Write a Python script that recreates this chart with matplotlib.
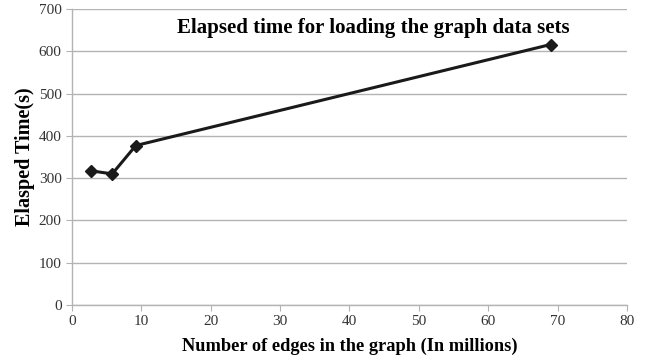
import matplotlib
matplotlib.use("Agg")
import matplotlib.pyplot as plt

edges = [2.8, 5.8, 9.2, 69.0]
elapsed = [317, 310, 377, 616]

x_ticks = [0, 10, 20, 30, 40, 50, 60, 70, 80]
y_ticks = [0, 100, 200, 300, 400, 500, 600, 700]


def main():
    plt.rcParams["font.family"] = ["Liberation Serif", "DejaVu Serif"]

    fig = plt.figure(figsize=(6.45, 3.6), dpi=100)
    ax = fig.add_axes([0.1116, 0.153, 0.8604, 0.822])

    ax.plot(edges, elapsed, "-", color="#1a1a1a", lw=2.2, marker="D", ms=6,
            markerfacecolor="#1a1a1a", markeredgecolor="#1a1a1a")

    ax.set_xlim(0, 80)
    ax.set_ylim(0, 700)
    ax.set_xticks(x_ticks)
    ax.set_yticks(y_ticks)
    ax.yaxis.grid(True, color="#b3b3b3", lw=1)
    ax.set_axisbelow(True)

    for s in ["top", "right"]:
        ax.spines[s].set_visible(False)
    for s in ["left", "bottom"]:
        ax.spines[s].set_color("#b3b3b3")
        ax.spines[s].set_linewidth(1)
    ax.tick_params(colors="#b3b3b3", labelcolor="#333333", labelsize=11, length=4)

    ax.set_xlabel("Number of edges in the graph (In millions)", fontsize=13.2,
                  fontweight="bold", labelpad=7)
    ax.set_ylabel("Elasped Time(s)", fontsize=14.5, fontweight="bold", labelpad=3)

    ax.text(43.4, 643, "Elapsed time for loading the graph data sets",
            ha="center", va="baseline", fontsize=15, fontweight="bold")

    fig.savefig("out.png", dpi=100)


if __name__ == "__main__":
    main()
